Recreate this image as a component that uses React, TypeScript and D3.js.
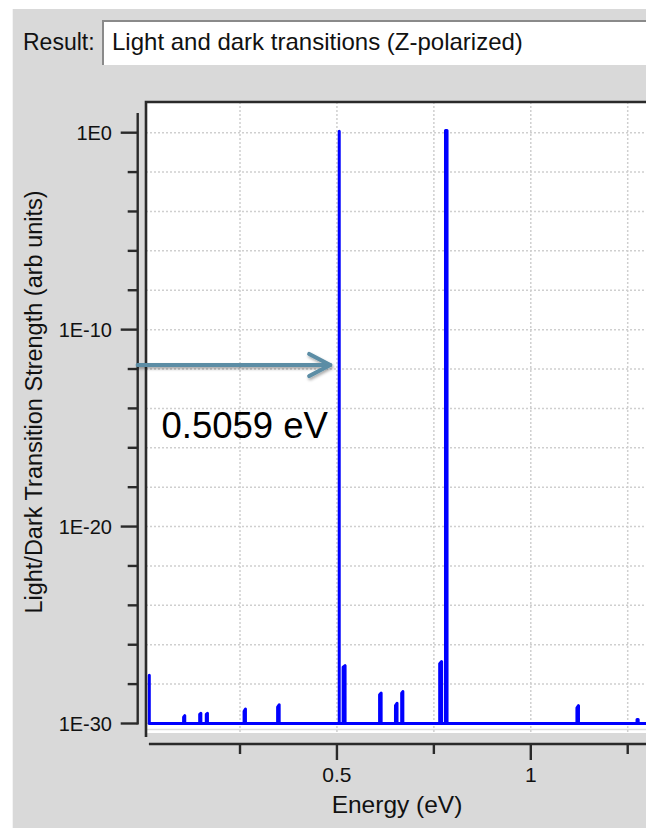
import React from 'react';
import * as d3 from 'd3';

// canvas size of the reference
const width = 646, height = 828;

// spectrum: each peak has a left and right sample (energy in eV, strength in arb units)
const peakStart = [0.016, 0.1045, 0.146, 0.163, 0.2605, 0.347, 0.5059, 0.516, 0.610, 0.651, 0.667, 0.765, 0.780, 1.119, 1.274];
const peakEnd = [0.016, 0.1075, 0.149, 0.166, 0.2640, 0.351, 0.5059, 0.521, 0.614, 0.655, 0.670, 0.770, 0.784, 1.123, 1.277];
const peakLeft = [2.8e-28, 2.1e-30, 2.9e-30, 2.9e-30, 4.2e-30, 6.8e-30, 1.2, 7.2e-28, 2.9e-29, 8.1e-30, 3.5e-29, 1.07e-27, 1.3, 6.3e-30, 1.6e-30];
const peakRight = [2.8e-28, 2.5e-30, 3.3e-30, 3.3e-30, 5.4e-30, 8.9e-30, 1.2, 8.7e-28, 3.5e-29, 1.07e-29, 4.2e-29, 1.4e-27, 1.3, 8.1e-30, 1.6e-30];
const baseline = 1e-30;

// axis ticks
const xTicks = [0.25, 0.5, 0.75, 1, 1.25];
const xLabels = ['', '0.5', '', '1', ''];
const yExponents = [-30, -28, -26, -24, -22, -20, -18, -16, -14, -12, -10, -8, -6, -4, -2, 0];

// annotation
const markedPeak = 0.5059;
const markedLevel = 1.6e-12;
const markedText = '0.5059 eV';

const font = '"Liberation Sans", Arial, sans-serif';

export default function App() {
    const xScale = d3.scaleLinear().domain([0.015, 1.3]).range([148.9, 647.1]);
    const yScale = d3.scaleLog().domain([1e-30, 1e1]).range([723.5, 113]);

    // build the spectrum line: baseline, up, across the doublet top, back down
    const pts: [number, number][] = [];
    peakStart.forEach((e, i) => {
        pts.push([e, baseline]);
        pts.push([e, peakLeft[i]]);
        pts.push([peakEnd[i], peakRight[i]]);
        pts.push([peakEnd[i], baseline]);
    });
    pts.push([1.3, baseline]);
    const line = d3.line<[number, number]>()
        .x(d => xScale(d[0]))
        .y(d => yScale(d[1]));
    const path = line(pts) || '';

    const plotLeft = 146, plotTop = 102, plotBottom = 733;
    const axisY = 744, axisX = 137.7;

    const arrowY = yScale(markedLevel);
    const arrowTip = xScale(markedPeak) - 9;

    return (
        <svg width={width} height={height} style={{ position: 'absolute', left: 0, top: 0 }}
            fontFamily={font}>
            <defs>
                <filter id="shadow" x="-10%" y="-50%" width="120%" height="200%">
                    <feDropShadow dx="1" dy="2" stdDeviation="1.5" floodColor="#000" floodOpacity="0.35" />
                </filter>
                <clipPath id="plotClip">
                    <rect x={plotLeft} y={plotTop} width={width - plotLeft} height={plotBottom - plotTop} />
                </clipPath>
            </defs>
            <rect x={0} y={0} width={width} height={height} fill="#fff" />
            <rect x={12.7} y={9} width={width} height={height} fill="#d9d9d9" />

            {/* result selector */}
            <text x={23} y={50} fontSize={23} fill="#111">Result:</text>
            <rect x={103} y={21} width={width} height={44} fill="#fff" />
            <path d={`M103,65 V21 H${width}`} stroke="#8a8a8a" strokeWidth={2} fill="none" />
            <text x={112} y={50} fontSize={24} fill="#111">Light and dark transitions (Z-polarized)</text>

            {/* plot area */}
            <rect x={plotLeft} y={plotTop} width={width - plotLeft} height={plotBottom - plotTop} fill="#fff" />
            <line x1={plotLeft} x2={width} y1={729.5} y2={729.5} stroke="#dedede" strokeWidth={1.5} />
            <g clipPath="url(#plotClip)">
                {yExponents.map(p => (
                    <line key={'gy' + p} x1={plotLeft} x2={width} y1={yScale(Math.pow(10, p))} y2={yScale(Math.pow(10, p))}
                        stroke="#cfcfcf" strokeWidth={1.5} strokeDasharray="2,2" />
                ))}
                {xTicks.map(t => (
                    <line key={'gx' + t} x1={xScale(t)} x2={xScale(t)} y1={plotTop} y2={plotBottom}
                        stroke="#cfcfcf" strokeWidth={1.5} strokeDasharray="2,2" />
                ))}
                <path d={path} stroke="#0000ff" strokeWidth={3} fill="#0000ff" strokeLinejoin="round" />
            </g>
            <path d={`M${plotLeft},737 V${plotTop} H${width}`} stroke="#2a2a2a" strokeWidth={2.6} fill="none" />

            {/* y axis */}
            <line x1={axisX} x2={axisX} y1={yScale(1e1)} y2={yScale(1e-30) + 1} stroke="#2a2a2a" strokeWidth={2.4} />
            {yExponents.map(p => {
                const major = p % 10 === 0;
                const y = yScale(Math.pow(10, p));
                return (
                    <g key={'ty' + p}>
                        <line x1={axisX - (major ? 17 : 10)} x2={axisX} y1={y} y2={y} stroke="#2a2a2a" strokeWidth={2.4} />
                        {major && <text x={112} y={y} dy="0.35em" textAnchor="end" fontSize={20} fill="#111">{'1E' + p}</text>}
                    </g>
                );
            })}
            <text transform={`translate(42,402) rotate(-90)`} textAnchor="middle" fontSize={23.5} fill="#111">
                Light/Dark Transition Strength (arb units)
            </text>

            {/* x axis */}
            <line x1={xScale(0.015)} x2={width} y1={axisY} y2={axisY} stroke="#2a2a2a" strokeWidth={2.4} />
            {xTicks.map((t, i) => (
                <g key={'tx' + t}>
                    <line x1={xScale(t)} x2={xScale(t)} y1={axisY} y2={axisY + (xLabels[i] ? 16 : 10)} stroke="#2a2a2a" strokeWidth={2.4} />
                    {xLabels[i] && <text x={xScale(t)} y={782} textAnchor="middle" fontSize={21} fill="#111">{xLabels[i]}</text>}
                </g>
            ))}
            <text x={397} y={813} textAnchor="middle" fontSize={24.5} fill="#111">Energy (eV)</text>

            {/* annotation arrow */}
            <g filter="url(#shadow)" stroke="#5b8da5" strokeWidth={4.2} fill="none" strokeLinecap="round" strokeLinejoin="round">
                <line x1={axisX} x2={arrowTip} y1={arrowY} y2={arrowY} />
                <path d={`M${arrowTip - 21},${arrowY - 11} L${arrowTip},${arrowY} L${arrowTip - 21},${arrowY + 11}`} />
            </g>
            <text x={161.5} y={438} fontSize={36.5} fill="#000">{markedText}</text>
        </svg>
    );
}
